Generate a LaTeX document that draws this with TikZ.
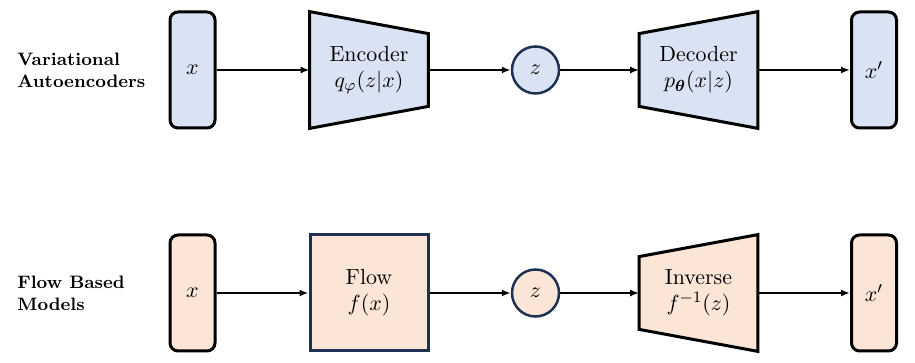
\documentclass[tikz,border=0pt]{standalone}
\usepackage{amsmath,amssymb,bm}
\usepackage{xcolor}
\usepackage{tikz}
\usetikzlibrary{arrows.meta,positioning,calc,backgrounds}

\definecolor{vaefill}{HTML}{DAE3F3}
\definecolor{flowfill}{HTML}{FBE5D6}
\definecolor{navy}{HTML}{1F3153}

\begin{document}
\begin{tikzpicture}[
    x=0.5pt, y=0.5pt,
    every node/.style={font=\fontsize{10.95}{13}\selectfont},
    >={Latex[length=4.5pt,width=3.5pt]},
    io/.style    ={rectangle,rounded corners=4pt,draw=black,line width=1.5pt,
                   minimum width=22.5pt,minimum height=58pt,inner sep=0pt},
    lat/.style   ={circle,draw=navy,line width=1.25pt,minimum size=23.5pt,
                   inner sep=0pt},
    net/.style   ={rectangle,minimum width=59pt,minimum height=58pt,
                   inner sep=0pt,align=center},
    trap/.style  ={draw=black,line width=1.5pt,line join=miter},
    rowlbl/.style={font=\small\bfseries,align=left,anchor=west,inner sep=0pt},
    link/.style  ={->,line width=1pt},
  ]
  \useasboundingbox (0,0) rectangle (915,363);

  % Top row: variational autoencoder
  \node[rowlbl] (vae) at (17,293) {Variational\\Autoencoders};
  \node[io,fill=vaefill]  (Xa)  at (192.5,293) {$x$};
  \node[net]              (Enc) at (369,293)   {Encoder\\$q_{\varphi}(z|x)$};
  \node[lat,fill=vaefill] (Za)  at (535.5,293) {$z$};
  \node[net]              (Dec) at (698.5,293) {Decoder\\$p_{\bm{\theta}}(x|z)$};
  \node[io,fill=vaefill]  (Ya)  at (874,293)   {$x'$};

  % Bottom row: flow based model
  \node[rowlbl] (fbm) at (17,70) {Flow Based\\Models};
  \node[io,fill=flowfill] (Xb)  at (192.5,70) {$x$};
  \node[net,draw=navy,line width=1.5pt,fill=flowfill]
                          (Flw) at (369,70)   {Flow\\$f(x)$};
  \node[lat,fill=flowfill] (Zb) at (535.5,70) {$z$};
  \node[net]              (Inv) at (698.5,70) {Inverse\\$f^{-1}(z)$};
  \node[io,fill=flowfill] (Yb)  at (874,70)   {$x'$};

  % Trapezoid outlines behind the text
  \begin{scope}[on background layer]
    \draw[trap,fill=vaefill] (Enc.north west) -- ([yshift=-11pt]Enc.north east)
          -- ([yshift=11pt]Enc.south east) -- (Enc.south west) -- cycle;
    \draw[trap,fill=vaefill] (Dec.north east) -- (Dec.south east)
          -- ([yshift=11pt]Dec.south west) -- ([yshift=-11pt]Dec.north west) -- cycle;
    \draw[trap,fill=flowfill] (Inv.north east) -- (Inv.south east)
          -- ([yshift=11pt]Inv.south west) -- ([yshift=-11pt]Inv.north west) -- cycle;
  \end{scope}

  % Connectors
  \draw[link] (Xa) -- (Enc);
  \draw[link] (Enc) -- (Za);
  \draw[link] (Za) -- (Dec);
  \draw[link] (Dec) -- (Ya);

  \draw[link] (Xb) -- (Flw);
  \draw[link] (Flw) -- (Zb);
  \draw[link] (Zb) -- (Inv);
  \draw[link] (Inv) -- (Yb);
\end{tikzpicture}
\end{document}
